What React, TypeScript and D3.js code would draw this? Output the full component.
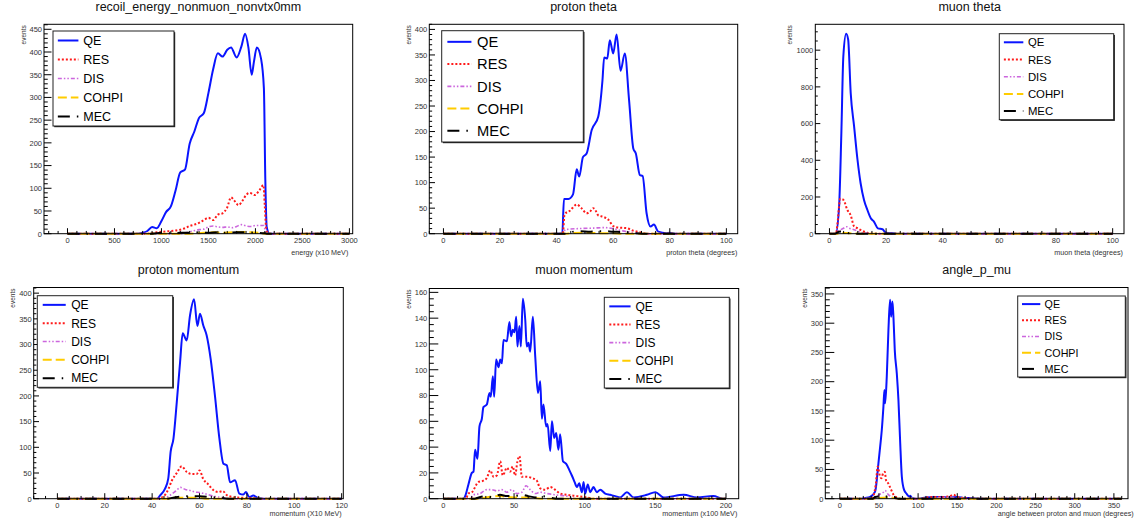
import { useEffect, useRef } from "react";
import * as d3 from "d3";

type Pt = [number, number];

// recoil_energy_nonmuon_nonvtx0mm (x10 MeV)
const recoilQE: Pt[] = [[0,0],[720,0],[800,2],[850,6],[900,15],[950,12],[1000,28],[1050,48],[1100,60],[1150,95],[1200,135],[1250,141],[1300,198],[1350,225],[1400,255],[1450,265],[1500,310],[1550,362],[1600,397],[1650,390],[1700,405],[1740,410],[1800,388],[1850,412],[1890,440],[1925,410],[1960,350],[1985,380],[2015,410],[2060,385],[2090,320],[2105,120],[2120,15],[2150,0],[3000,0]];
const recoilRES: Pt[] = [[0,0],[850,0],[950,3],[1050,5],[1150,7],[1250,12],[1300,17],[1350,20],[1400,24],[1450,30],[1500,35],[1550,30],[1600,42],[1650,45],[1700,58],[1740,80],[1770,74],[1820,63],[1860,72],[1900,85],[1940,90],[1990,85],[2040,95],[2085,107],[2100,60],[2115,10],[2140,0],[3000,0]];
const recoilDIS: Pt[] = [[0,0],[1200,0],[1300,4],[1400,9],[1450,10],[1500,15],[1550,17],[1600,15],[1650,14],[1700,15],[1750,13],[1800,16],[1850,20],[1900,17],[1950,16],[2000,18],[2050,18],[2090,18],[2110,2],[2130,0],[3000,0]];
const recoilCOHPI: Pt[] = [[0,0],[1300,0],[1450,2],[1550,3],[1650,2],[1750,3],[1850,4],[1950,3],[2050,2],[2110,0],[3000,0]];
const recoilMEC: Pt[] = [[0,0],[900,0],[1000,2],[1100,1],[1200,2],[1300,2],[1400,3],[1500,2],[1600,3],[1700,2],[1800,3],[1900,3],[2000,2],[2100,1],[2130,0],[3000,0]];

// proton theta (degrees)
const pThetaQE: Pt[] = [[0,0],[42,0],[42.6,68],[44.2,68],[45.8,77],[47.1,126],[48,112],[49.3,150],[50.6,157],[52.4,203],[54.7,229],[56.2,300],[56.8,345],[57.9,343],[58.8,379],[60,353],[61.2,390],[62.6,319],[64.1,353],[65.6,262],[67.1,167],[68,157],[69.4,115],[70.4,113],[71.8,40],[73.2,14],[74.4,18],[75.9,4],[78.8,1],[80,2],[81.5,0],[100,0]];
const pThetaRES: Pt[] = [[0,0],[42.2,0],[42.8,38],[44.7,45],[47.1,57],[48.8,50],[50.6,40],[51.8,43],[52.9,50],[53.5,48],[54.7,36],[56.5,33],[58.2,28],[60,15],[61.8,12],[64.7,11],[67,6],[69.4,3],[71.8,0],[100,0]];
const pThetaDIS: Pt[] = [[0,0],[42.5,0],[43,8],[48,10],[53,11],[57,12],[60,10],[63,6],[66,3],[70,0],[100,0]];
const pThetaCOHPI: Pt[] = [[0,0],[43,0],[45,1],[50,2],[55,1],[60,1],[63,0],[100,0]];
const pThetaMEC: Pt[] = [[0,0],[43,0],[45,3],[48,5],[52,4],[56,5],[60,4],[64,3],[68,1],[72,0],[100,0]];

// muon theta (degrees)
const muThetaQE: Pt[] = [[0,0],[2.2,0],[3.4,148],[4.2,548],[4.9,967],[5.9,1089],[6.6,1058],[7.5,767],[8.7,585],[9.9,403],[11,275],[12.2,184],[13.4,129],[14.6,84],[15.7,66],[17.1,29],[18.7,24],[19.8,7],[21.6,2],[24,0],[100,0]];
const muThetaRES: Pt[] = [[0,0],[2.3,0],[2.8,50],[3.8,190],[4.9,185],[6.3,130],[7.5,100],[8.7,40],[9.9,30],[11.6,15],[13.4,5],[15.1,0],[100,0]];
const muThetaDIS: Pt[] = [[0,0],[2.5,0],[3,10],[5,30],[6,38],[7,30],[9,20],[11,8],[14,2],[16,0],[100,0]];
const muThetaCOHPI: Pt[] = [[0,0],[2.5,0],[4,3],[6,4],[8,2],[10,0],[100,0]];
const muThetaMEC: Pt[] = [[0,0],[2,0],[2.5,5],[4,12],[5,11],[6,5],[8,2],[10,0],[100,0]];

// proton momentum (X10 MeV)
const pMomQE: Pt[] = [[0,0],[42,0],[43.3,6],[45.4,19],[46.8,39],[47.8,91],[49,117],[50.4,188],[51.8,266],[52.9,322],[54.6,308],[56,357],[57.7,388],[59.1,336],[60.2,360],[61.6,337],[63,318],[64.7,272],[66.5,201],[68.4,117],[70.1,68],[71.5,65],[72.9,32],[75,36],[76.8,10],[78.5,8],[79.6,13],[81,3],[82.7,6],[84.8,1],[87,0],[120,0]];
const pMomRES: Pt[] = [[0,0],[42,0],[44.7,4],[46.8,18],[48.3,35],[50.4,50],[52.5,63],[54.6,52],[56.7,48],[58.8,48],[60,55],[61.6,38],[63.7,28],[65.8,17],[68,13],[69.8,15],[71.5,7],[74.3,3],[77,2],[83,1],[87,0],[120,0]];
const pMomDIS: Pt[] = [[0,0],[45,0],[47,5],[50,15],[52,22],[54,18],[56,16],[58,13],[60,12],[62,10],[65,6],[68,3],[72,1],[75,0],[120,0]];
const pMomCOHPI: Pt[] = [[0,0],[47,0],[50,2],[55,2],[60,2],[63,0],[120,0]];
const pMomMEC: Pt[] = [[0,0],[46,0],[50,3],[55,5],[60,5],[65,3],[70,1],[73,0],[120,0]];

// muon momentum (x100 MeV)
const muMomQE: Pt[] = [[0,0],[14.5,0],[15.4,2],[17.7,11],[20.1,20],[21.3,21],[22.4,38],[24.1,31],[25.5,56],[27.2,62],[28.3,71],[30.7,73],[32.6,82],[33.5,79],[35,95],[35.9,79],[37.3,108],[39,102],[40.2,108],[41.4,105],[42.5,123],[44.9,122],[46.7,137],[47.9,126],[49.1,131],[50.3,129],[51.5,141],[52.4,118],[53.8,134],[54.8,118],[56.2,155],[57.9,139],[59,118],[60.2,121],[61.4,114],[63.3,141],[65,110],[66.9,82],[68.5,91],[69.7,62],[70.8,73],[72.7,56],[73.7,58],[75.6,37],[76.8,60],[78.4,47],[79.8,51],[81.4,38],[82.6,50],[84.6,29],[86.9,27],[89.2,22],[90.9,18],[92.8,13],[94.5,9],[96.1,12],[98,5],[99.2,13],[100.3,4],[102.2,11],[103.9,5],[106.2,9],[108.6,5],[111,7],[114.5,4],[118,3],[121.6,2],[125,1],[129.9,5],[134.6,1],[144,3],[150,5],[155.8,1],[170,3],[179.5,1],[191,2],[198,0],[200,0]];
const muMomRES: Pt[] = [[0,0],[16,0],[17.5,4],[20.1,5],[24.8,13],[28.3,14],[30.7,16],[33.1,22],[35.5,17],[37.8,18],[40.2,29],[42,18],[44.9,24],[47.2,21],[49.1,25],[50.7,18],[52.4,29],[53.8,33],[55.5,17],[59,17],[62.6,16],[66.1,14],[68.5,8],[72,7],[75.6,9],[79,7],[82.6,4],[87.3,3],[94.5,2],[101.6,1],[106,0],[200,0]];
const muMomDIS: Pt[] = [[0,0],[19,0],[21.3,3],[26,4],[30.7,7],[34.2,7],[37.8,6],[41.4,7],[44.9,5],[48.4,7],[51.9,4],[55.5,5],[58.5,10],[61.4,7],[65,4],[68.5,5],[73.2,4],[79,3],[87,2],[95,0],[200,0]];
const muMomCOHPI: Pt[] = [[0,0],[25,0],[30,1],[40,2],[50,1],[60,1],[70,0],[200,0]];
const muMomMEC: Pt[] = [[0,0],[22,0],[25,1],[30,2],[35,1],[40,3],[45,2],[50,2],[55,3],[60,2],[65,1],[70,2],[75,1],[80,0],[200,0]];

// angle_p_mu (degrees)
const angleQE: Pt[] = [[0,0],[28,0],[32,1],[38.7,3],[45.1,12],[49.3,60],[52.4,100],[53.6,117],[55.7,157],[57,186],[57.9,163],[60,209],[62.1,288],[64.2,340],[65.5,311],[67.2,337],[68.5,311],[70.2,254],[72.8,214],[74.9,168],[77,100],[79.2,38],[82.1,15],[85.6,8],[88.9,3],[90,5],[92.4,1],[100,0],[110,2],[120,3],[130,3],[140,2],[150,3],[160,1],[170,1],[180,0],[360,0]];
const angleRES: Pt[] = [[0,0],[40,0],[43,5],[46,25],[48.5,55],[51,40],[53,35],[55.5,44],[57.5,46],[59,32],[62,26],[65,17],[69,6],[73,2],[77,0],[105,0],[110,2],[120,3],[130,3],[140,4],[145,7],[150,3],[160,1],[170,0],[360,0]];
const angleDIS: Pt[] = [[0,0],[45,0],[49.3,6],[55.7,11],[57.9,14],[62,7],[66,3],[71,0],[120,0],[130,2],[140,2],[150,1],[160,0],[360,0]];
const angleCOHPI: Pt[] = [[0,0],[45,0],[50,1],[60,2],[70,1],[75,0],[360,0]];
const angleMEC: Pt[] = [[0,0],[42,0],[45,3],[55,4],[65,3],[70,2],[75,0],[360,0]];

const seriesNames = ["QE", "RES", "DIS", "COHPI", "MEC"];
const seriesColors = ["#0a14ff", "#ff1a1a", "#cc66dd", "#ffcc00", "#000000"];
const seriesDash = ["", "2,2", "4,2,1.5,2,1.5,2", "9,4", "12,7,1.5,7"];
const seriesWidth = [2, 2, 1.6, 2, 2];

const FONT = "'Liberation Sans', Arial, Helvetica, sans-serif";

const panels = [
  {
    title: "recoil_energy_nonmuon_nonvtx0mm", xLabel: "energy (x10 MeV)",
    data: [recoilQE, recoilRES, recoilDIS, recoilCOHPI, recoilMEC],
    x0: 44, x1: 352.7, y0: 24.3, y1: 233.7, xDomain: [-250, 3035], xMax: 3000, yMax: 461,
    xMajor: 500, xMinor: 100, yMajor: 50, yMinor: 10, yTick: 7.5,
    legend: { x: 53, y: 31, w: 121, h: 95 }, evOff: 18.5, xLabEnd: 348.3, xLabY: 254.5, titleY: 11,
  },
  {
    title: "proton theta", xLabel: "proton theta (degrees)",
    data: [pThetaQE, pThetaRES, pThetaDIS, pThetaCOHPI, pThetaMEC],
    x0: 429.3, x1: 737.7, y0: 24.3, y1: 233.7, xDomain: [-5, 104], xMax: 100, yMax: 410,
    xMajor: 20, xMinor: 5, yMajor: 50, yMinor: 10, yTick: 5.7,
    legend: { x: 441.7, y: 30.7, w: 141.6, h: 111.3 }, evOff: 18.3, xLabEnd: 737.3, xLabY: 254.5, titleY: 11,
  },
  {
    title: "muon theta", xLabel: "muon theta (degrees)",
    data: [muThetaQE, muThetaRES, muThetaDIS, muThetaCOHPI, muThetaMEC],
    x0: 815.3, x1: 1124, y0: 24.3, y1: 233.7, xDomain: [-5, 104], xMax: 100, yMax: 1141,
    xMajor: 20, xMinor: 5, yMajor: 200, yMinor: 50, yTick: 5,
    legend: { x: 999.3, y: 33.7, w: 114.4, h: 86 }, evOff: 23, xLabEnd: 1123, xLabY: 254.5, titleY: 11,
  },
  {
    title: "proton momentum", xLabel: "momentum (X10 MeV)",
    data: [pMomQE, pMomRES, pMomDIS, pMomCOHPI, pMomMEC],
    x0: 33.7, x1: 343.3, y0: 287.5, y1: 498.7, xDomain: [-10, 120.7], xMax: 120, yMax: 411,
    xMajor: 20, xMinor: 5, yMajor: 50, yMinor: 10, yTick: 5.3,
    legend: { x: 37.3, y: 295.7, w: 135.4, h: 91.6 }, evOff: 18.7, xLabEnd: 341.7, xLabY: 515.5, titleY: 274.3,
  },
  {
    title: "muon momentum", xLabel: "momentum (x100 MeV)",
    data: [muMomQE, muMomRES, muMomDIS, muMomCOHPI, muMomMEC],
    x0: 429.3, x1: 738.7, y0: 288.5, y1: 498.7, xDomain: [-10, 209], xMax: 200, yMax: 163,
    xMajor: 50, xMinor: 10, yMajor: 20, yMinor: 5, yTick: 9,
    legend: { x: 604.3, y: 297.3, w: 125, h: 90.7 }, evOff: 18.5, xLabEnd: 737.3, xLabY: 515.5, titleY: 274.3,
  },
  {
    title: "angle_p_mu", xLabel: "angle between proton and muon (degrees)",
    data: [angleQE, angleRES, angleDIS, angleCOHPI, angleMEC],
    x0: 825.3, x1: 1128, y0: 287.5, y1: 498.7, xDomain: [-18.5, 368], xMax: 350, yMax: 361,
    xMajor: 50, xMinor: 10, yMajor: 50, yMinor: 10, yTick: 9,
    legend: { x: 1017.7, y: 296, w: 107.6, h: 81 }, evOff: 18.3, xLabEnd: 1133.7, xLabY: 515.5, titleY: 274.3,
  },
];

export default function App() {
  const svgRef = useRef<SVGSVGElement>(null);

  useEffect(() => {
    const svg = d3.select(svgRef.current);
    svg.selectAll("*").remove();

    panels.forEach((p) => {
      const g = svg.append("g");
      const xs = d3.scaleLinear().domain(p.xDomain).range([p.x0, p.x1]);
      const ys = d3.scaleLinear().domain([0, p.yMax]).range([p.y1, p.y0]);

      // title
      g.append("text")
        .attr("x", (p.x0 + p.x1) / 2)
        .attr("y", p.titleY)
        .attr("text-anchor", "middle")
        .attr("font-family", FONT)
        .attr("font-size", 12.5)
        .attr("fill", "#111")
        .text(p.title);

      // curves
      const line = d3.line<Pt>()
        .x((d) => xs(d[0]))
        .y((d) => ys(d[1]))
        .curve(d3.curveMonotoneX);
      p.data.forEach((s, i) => {
        g.append("path")
          .attr("d", line(s))
          .attr("fill", "none")
          .attr("stroke", seriesColors[i])
          .attr("stroke-width", seriesWidth[i])
          .attr("stroke-dasharray", seriesDash[i] || null);
      });

      // frame
      g.append("rect")
        .attr("x", p.x0).attr("y", p.y0)
        .attr("width", p.x1 - p.x0).attr("height", p.y1 - p.y0)
        .attr("fill", "none").attr("stroke", "#000").attr("stroke-width", 1);

      // y ticks (inside)
      const yMinors = d3.range(0, p.yMax + 1e-6, p.yMinor);
      g.selectAll(null).data(yMinors).enter().append("line")
        .attr("x1", p.x0).attr("x2", (d) => p.x0 + (Math.abs(d / p.yMajor - Math.round(d / p.yMajor)) < 1e-6 ? p.yTick : p.yTick / 2))
        .attr("y1", (d) => ys(d)).attr("y2", (d) => ys(d))
        .attr("stroke", "#000").attr("stroke-width", 1);
      const yMajors = d3.range(0, p.yMax + 1e-6, p.yMajor);
      g.selectAll(null).data(yMajors).enter().append("text")
        .attr("x", p.x0 - 2)
        .attr("y", (d) => ys(d) + 2.8)
        .attr("text-anchor", "end")
        .attr("font-family", FONT)
        .attr("font-size", 7.5)
        .attr("fill", "#333")
        .text((d) => d3.format("d")(d));

      // x ticks (inside)
      const xTick = 5.5;
      const startMinor = Math.ceil(p.xDomain[0] / p.xMinor) * p.xMinor;
      const xMinors = d3.range(startMinor, p.xDomain[1] + 1e-6, p.xMinor);
      g.selectAll(null).data(xMinors).enter().append("line")
        .attr("x1", (d) => xs(d)).attr("x2", (d) => xs(d))
        .attr("y1", p.y1)
        .attr("y2", (d) => p.y1 - (Math.abs(d / p.xMajor - Math.round(d / p.xMajor)) < 1e-6 ? xTick : xTick / 2))
        .attr("stroke", "#000").attr("stroke-width", 1);
      const xMajors = d3.range(0, p.xMax + 1e-6, p.xMajor);
      g.selectAll(null).data(xMajors).enter().append("text")
        .attr("x", (d) => xs(d))
        .attr("y", p.y1 + 9)
        .attr("text-anchor", "middle")
        .attr("font-family", FONT)
        .attr("font-size", 7.5)
        .attr("fill", "#333")
        .text((d) => d3.format("d")(d));

      // axis titles
      g.append("text")
        .attr("x", p.xLabEnd).attr("y", p.xLabY)
        .attr("text-anchor", "end")
        .attr("font-family", FONT).attr("font-size", 7.2).attr("fill", "#333")
        .text(p.xLabel);
      g.append("text")
        .attr("transform", `translate(${p.x0 - p.evOff},${p.y0 + 1}) rotate(-90)`)
        .attr("text-anchor", "end")
        .attr("font-family", FONT).attr("font-size", 6.5).attr("fill", "#333")
        .text("events");

      // legend
      const L = p.legend;
      const rowH = L.h / 5;
      g.append("rect")
        .attr("x", L.x + 1.2).attr("y", L.y + 1.2).attr("width", L.w).attr("height", L.h)
        .attr("fill", "#222");
      g.append("rect")
        .attr("x", L.x).attr("y", L.y).attr("width", L.w).attr("height", L.h)
        .attr("fill", "#fff").attr("stroke", "#222").attr("stroke-width", 1);
      seriesNames.forEach((name, i) => {
        const cy = L.y + (i + 0.5) * rowH;
        g.append("line")
          .attr("x1", L.x + 0.04 * L.w).attr("x2", L.x + 0.21 * L.w)
          .attr("y1", cy).attr("y2", cy)
          .attr("stroke", seriesColors[i])
          .attr("stroke-width", seriesWidth[i])
          .attr("stroke-dasharray", seriesDash[i] || null);
        g.append("text")
          .attr("x", L.x + 0.25 * L.w)
          .attr("y", cy)
          .attr("dy", "0.36em")
          .attr("font-family", FONT)
          .attr("font-size", rowH * 0.66)
          .attr("fill", "#000")
          .text(name);
      });
    });
  }, []);

  return (
    <svg
      ref={svgRef}
      width={1137}
      height={524}
      style={{ position: "absolute", left: 0, top: 0, background: "#fff" }}
    />
  );
}
